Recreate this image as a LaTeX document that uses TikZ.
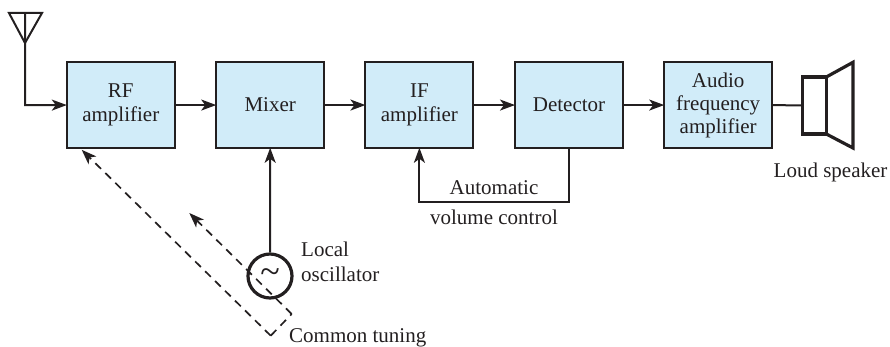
\documentclass[tikz,border=0pt]{standalone}
\usepackage{fontspec}
\setmainfont{Liberation Serif}
\usetikzlibrary{arrows.meta}
\definecolor{ink}{HTML}{231F20}
\definecolor{boxblue}{HTML}{D1ECF9}
\tikzset{
  x=1pt,y=-1pt,
  every node/.style={text=ink,font=\fontsize{21}{24}\selectfont},
  blk/.style={draw=ink,fill=boxblue,line width=2pt,outer sep=0pt,minimum width=108pt,minimum height=85.5pt,inner sep=0pt,align=center,anchor=north west},
  wire/.style={draw=ink,line width=2pt},
  flow/.style={wire,-{Stealth[length=15pt,width=11pt,inset=4pt]}},
  tune/.style={draw=ink,line width=1.7pt,dash pattern=on 8pt off 6pt},
  tunetip/.style={tune,-{Stealth[length=15pt,width=11pt,inset=4pt]}},
  lbl/.style={inner sep=0pt,anchor=base west},
  lblc/.style={inner sep=0pt,anchor=base},
  spk/.style={draw=ink,line width=3.2pt,miter limit=10}
}
\begin{document}
\begin{tikzpicture}
\useasboundingbox (0,0) rectangle (890,347);
\node[blk] (rf) at (66.8,62.3) {RF\\[0pt]amplifier};
\node[blk] (mix) at (216.2,62.3) {Mixer};
\node[blk] (if) at (365.4,62.3) {IF\\[0pt]amplifier};
\node[blk] (det) at (515,62.3) {Detector};
\node[blk] (aud) at (664.2,62.3) {Audio\\[-1pt]frequency\\[-1pt]amplifier};
\draw[flow] (rf.east) -- (mix.west);
\draw[flow] (mix.east) -- (if.west);
\draw[flow] (if.east) -- (det.west);
\draw[flow] (det.east) -- (aud.west);
% antenna
\coordinate (antL) at (9,13);
\coordinate (antR) at (42,13);
\coordinate (antT) at (25,43);
\coordinate (antM) at (25,13);
\coordinate (antC) at (25,105.2);
\draw[wire,line join=miter] (antL) -- (antR) -- (antT) -- cycle;
\draw[wire] (antM) -- (antT);
\draw[flow] (antM) -- (antC) -- (rf.west);
% oscillator
\node[draw=ink,line width=3.2pt,circle,minimum size=44pt,inner sep=0pt,font=\fontsize{36}{36}\selectfont] (osc) at (270,276) {\textasciitilde};
\draw[flow] (osc.north) -- (mix.south);
% AVC
\coordinate (avcR) at (det.south |- 0,201.7);
\coordinate (avcL) at (if.south |- 0,201.7);
\draw[flow] (det.south) -- (avcR) -- (avcL) -- (if.south);
\node[lblc] (auto) at (494,195) {Automatic};
\node[lblc] (vol) at (494,224) {volume control};
% speaker
\node[draw=ink,line width=3.2pt,outer sep=0pt,minimum width=24pt,minimum height=57pt,inner sep=0pt,anchor=west] (box) at (802.3,105.5) {};
\coordinate (coneT) at (853,62.3);
\coordinate (coneB) at (853,148);
\draw[spk,line join=miter] (box.north east) -- (coneT) -- (coneB) -- (box.south east);
\draw[wire] (aud.east) -- (box.west);
\node[lbl] (loud) at (773.5,178) {Loud speaker};
% tuning
\coordinate (t1) at (81.7,149.8);
\coordinate (t2) at (270.7,335.7);
\coordinate (t3) at (291.7,314);
\coordinate (t4) at (189.3,213);
\draw[tunetip] (t2) -- (t1);
\draw[tunetip] (t3) -- (t4);
\draw[tune] (t2) -- (t3);
\node[lbl] (loc) at (301,256.5) {Local};
\node[lbl] (oscl) at (301,281) {oscillator};
\node[lbl] (com) at (289,342.5) {Common tuning};
\end{tikzpicture}
\end{document}
